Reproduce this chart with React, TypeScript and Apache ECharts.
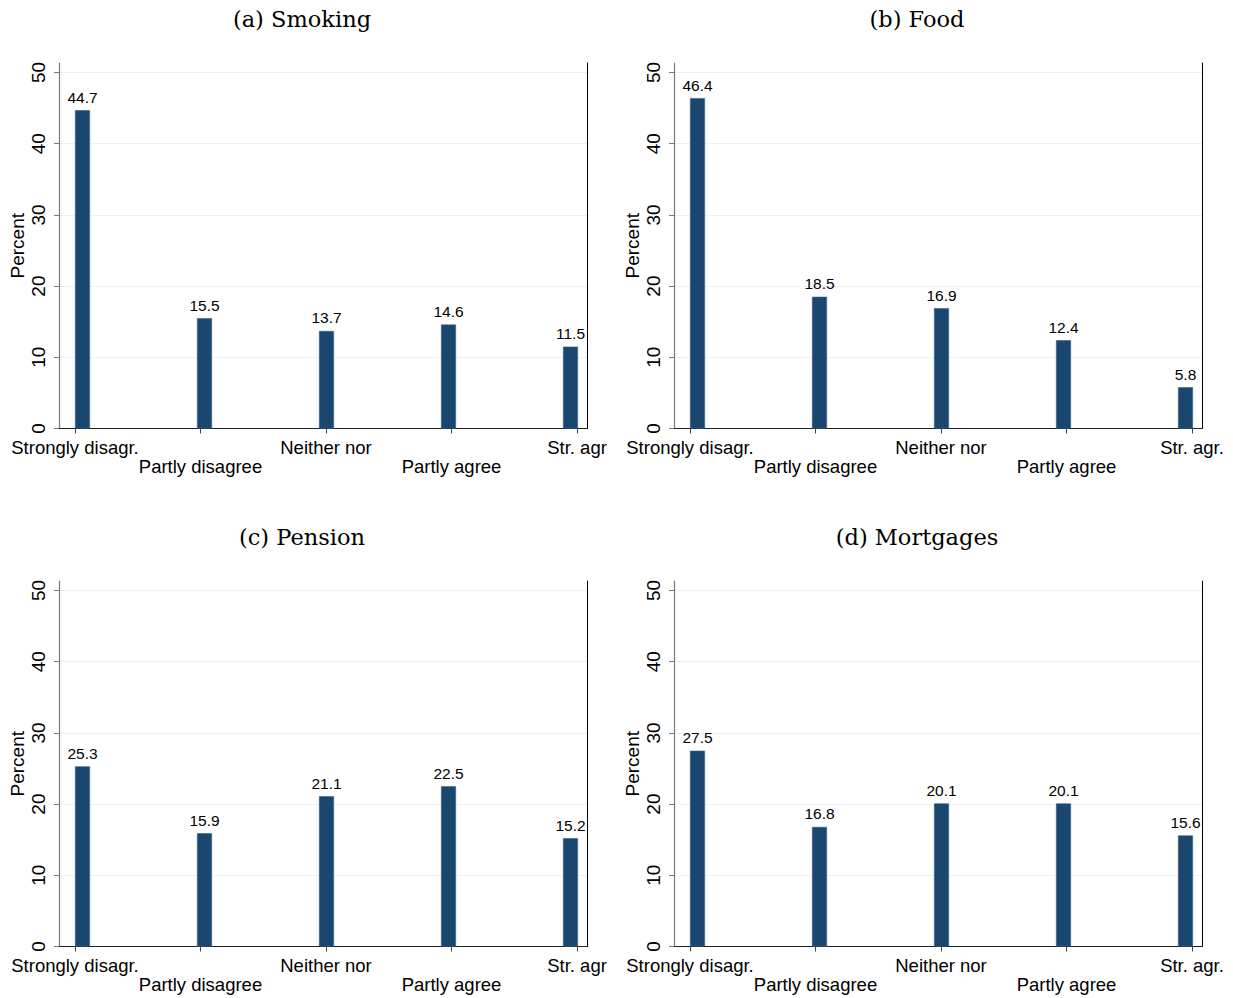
import React, { useEffect, useRef } from "react";
import * as echarts from "echarts";

const titles = ["(a) Smoking", "(b) Food", "(c) Pension", "(d) Mortgages"];
const categoriesAC = ["Strongly disagr.", "Partly disagree", "Neither nor", "Partly agree", "Str. agr"];
const categoriesBD = ["Strongly disagr.", "Partly disagree", "Neither nor", "Partly agree", "Str. agr."];
const smoking = [44.7, 15.5, 13.7, 14.6, 11.5];
const food = [46.4, 18.5, 16.9, 12.4, 5.8];
const pension = [25.3, 15.9, 21.1, 22.5, 15.2];
const mortgages = [27.5, 16.8, 20.1, 20.1, 15.6];
const yTicks = [0, 10, 20, 30, 40, 50];
const yLabel = "Percent";

const panelData = [
  { title: titles[0], cats: categoriesAC, values: smoking },
  { title: titles[1], cats: categoriesBD, values: food },
  { title: titles[2], cats: categoriesAC, values: pension },
  { title: titles[3], cats: categoriesBD, values: mortgages },
];

const offsets = [
  [0, 0],
  [615, 0],
  [0, 518],
  [615, 518],
];

const BAR = "#1a476f";
const SANS = "Liberation Sans, Arial, Helvetica, sans-serif";
const SERIF = "DejaVu Serif, serif";
const YMAX = 51.33;

export default function App() {
  const ref = useRef<HTMLDivElement>(null);
  useEffect(() => {
    if (!ref.current) return;
    const chart = echarts.init(ref.current, undefined, { renderer: "svg" });
    const grid: any[] = [];
    const xAxis: any[] = [];
    const yAxis: any[] = [];
    const series: any[] = [];
    const title: any[] = [];

    panelData.forEach((p, i) => {
      const [ox, oy] = offsets[i];
      const top = oy + 63;
      const height = 365.5;
      title.push({
        text: p.title,
        left: ox + 297,
        top: oy + 2,
        textAlign: "center",
        textStyle: { fontFamily: SERIF, fontSize: 22.5, fontWeight: "normal", color: "#000" },
      });
      const g0 = grid.length;
      grid.push({ left: ox + 59, top, width: 528, height });
      grid.push({ left: ox + 75, top, width: 502, height });
      grid.push({ left: ox + 82.5, top, width: 488, height });

      // frame grid
      xAxis.push({
        type: "value",
        gridIndex: g0,
        min: 0,
        max: 1,
        axisLine: { show: true, onZero: false, lineStyle: { color: "#222", width: 1 } },
        axisTick: { show: false },
        axisLabel: { show: false },
        splitLine: { show: false },
      });
      yAxis.push({
        type: "value",
        gridIndex: g0,
        min: 0,
        max: YMAX,
        name: yLabel,
        nameLocation: "middle",
        nameGap: 32,
        nameTextStyle: { fontFamily: SANS, fontSize: 19, color: "#000" },
        axisLine: { show: true, lineStyle: { color: "#7a7a7a", width: 1.2 } },
        axisTick: { show: true, length: 5, customValues: yTicks, lineStyle: { color: "#7a7a7a" } },
        axisLabel: {
          customValues: yTicks,
          rotate: 90,
          margin: 11,
          fontFamily: SANS,
          fontSize: 19,
          color: "#000",
        },
        splitLine: { show: true, lineStyle: { color: "#edf1f5", width: 1 } },
      });
      yAxis.push({
        type: "value",
        gridIndex: g0,
        position: "right",
        min: 0,
        max: YMAX,
        axisLine: { show: true, lineStyle: { color: "#000", width: 1 } },
        axisTick: { show: false },
        axisLabel: { show: false },
        splitLine: { show: false },
      });

      // tick / label grid
      xAxis.push({
        type: "category",
        gridIndex: g0 + 1,
        boundaryGap: false,
        data: p.cats,
        axisLine: { show: false },
        axisTick: { show: true, length: 5, alignWithLabel: true, lineStyle: { color: "#444" } },
        axisLabel: {
          interval: 0,
          margin: 9,
          fontFamily: SANS,
          fontSize: 18.5,
          lineHeight: 19,
          color: "#000",
          formatter: (v: string, idx: number) => (idx % 2 === 1 ? "\n" + v : v),
        },
        splitLine: { show: false },
      });
      yAxis.push({ type: "value", gridIndex: g0 + 1, min: 0, max: YMAX, show: false });

      // bar grid
      xAxis.push({
        type: "category",
        gridIndex: g0 + 2,
        boundaryGap: false,
        data: p.cats,
        show: false,
      });
      yAxis.push({ type: "value", gridIndex: g0 + 2, min: 0, max: YMAX, show: false });

      series.push({
        type: "bar",
        xAxisIndex: xAxis.length - 1,
        yAxisIndex: yAxis.length - 1,
        data: p.values,
        barWidth: 15,
        clip: false,
        itemStyle: { color: BAR, borderColor: "#3d5f80", borderWidth: 0.6 },
        label: {
          show: true,
          position: "top",
          distance: 5,
          fontFamily: SANS,
          fontSize: 15.5,
          color: "#000",
          formatter: (d: any) => Number(d.value).toFixed(1),
        },
      });
    });

    chart.setOption({
      animation: false,
      backgroundColor: "#fff",
      title,
      grid,
      xAxis,
      yAxis,
      series,
    });
    return () => chart.dispose();
  }, []);
  return (
    <div
      ref={ref}
      style={{ position: "absolute", left: 0, top: 0, width: 1233, height: 998 }}
    />
  );
}
